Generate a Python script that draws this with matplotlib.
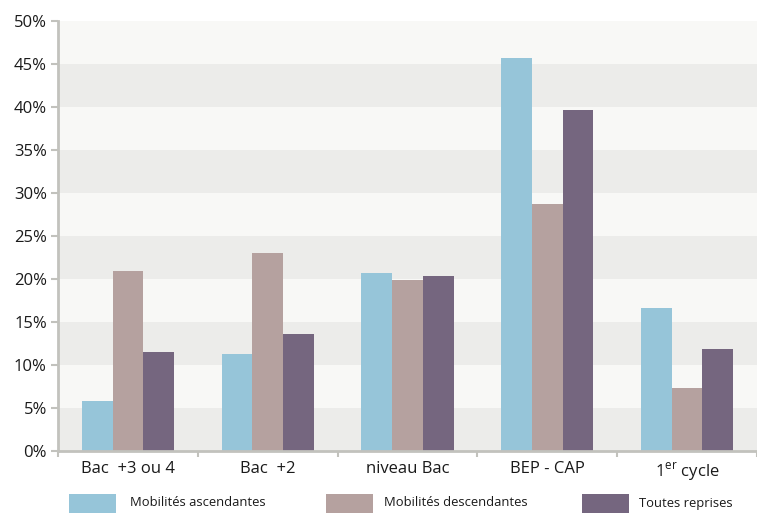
import matplotlib
matplotlib.use("Agg")
import matplotlib.pyplot as plt
from matplotlib.patches import Rectangle
import numpy as np

plt.rcParams['font.family'] = ['Open Sans', 'DejaVu Sans']
plt.rcParams['mathtext.fontset'] = 'custom'
plt.rcParams['mathtext.rm'] = 'Open Sans'

categories = ["Bac  +3 ou 4", "Bac  +2", "niveau Bac", "BEP - CAP", "1$^{\\mathregular{er}}$ cycle"]
series_names = ["Mobilités ascendantes", "Mobilités descendantes", "Toutes reprises"]
ascendantes = [5.8, 11.3, 20.7, 45.7, 16.6]
descendantes = [20.9, 23.0, 19.9, 28.7, 7.3]
toutes = [11.5, 13.6, 20.4, 39.7, 11.9]
yticks = [0, 5, 10, 15, 20, 25, 30, 35, 40, 45, 50]

colors = ["#96c5d9", "#b5a19f", "#75667f"]
band_dark = "#ececea"
band_light = "#f8f8f6"
spine_col = "#c2c2bd"
text_col = "#1a1a1a"

fig = plt.figure(figsize=(7.57, 5.14), dpi=100)
ax = fig.add_axes([0.0766, 0.1226, 0.9234, 0.8364])

# alternating horizontal bands
for i in range(len(yticks) - 1):
    ax.axhspan(yticks[i], yticks[i + 1], color=band_dark if i % 2 == 0 else band_light,
               zorder=0, lw=0)

x = np.arange(len(categories))
w = 0.22
for k, vals in enumerate([ascendantes, descendantes, toutes]):
    ax.bar(x + (k - 1) * w, vals, width=w, color=colors[k], zorder=2, linewidth=0)

ax.set_xlim(-0.5, len(categories) - 0.5)
ax.set_ylim(0, 50)
ax.set_yticks(yticks)
ax.set_yticklabels([f"{v}%" for v in yticks], fontsize=12, color=text_col)
ax.set_xticks(np.arange(len(categories) + 1) - 0.5)
ax.set_xticklabels([])
ax.set_xticks(x, minor=True)
ax.set_xticklabels(categories, minor=True, fontsize=12, color=text_col)
ax.tick_params(axis='x', which='minor', length=0, pad=7)
ax.tick_params(axis='x', which='major', length=4, width=1.5, color=spine_col, direction='out')
ax.tick_params(axis='y', length=5, width=1.5, color=spine_col, pad=3)

for side in ["top", "right"]:
    ax.spines[side].set_visible(False)
for side in ["left", "bottom"]:
    ax.spines[side].set_color(spine_col)
    ax.spines[side].set_linewidth(2)
    ax.spines[side].set_zorder(3)

# legend drawn as patches in figure coordinates
patch_x = [69, 326, 582]
text_x = [130, 384, 639]
for px, tx, c, name in zip(patch_x, text_x, colors, series_names):
    fig.patches.append(Rectangle((px / 757, (514 - 513) / 514), 47 / 757, 19 / 514,
                                 transform=fig.transFigure, color=c, lw=0))
    fig.text(tx / 757, (514 - 503) / 514, name, fontsize=9.4, color=text_col,
             va='center', ha='left')

fig.savefig("out.png", dpi=100)
